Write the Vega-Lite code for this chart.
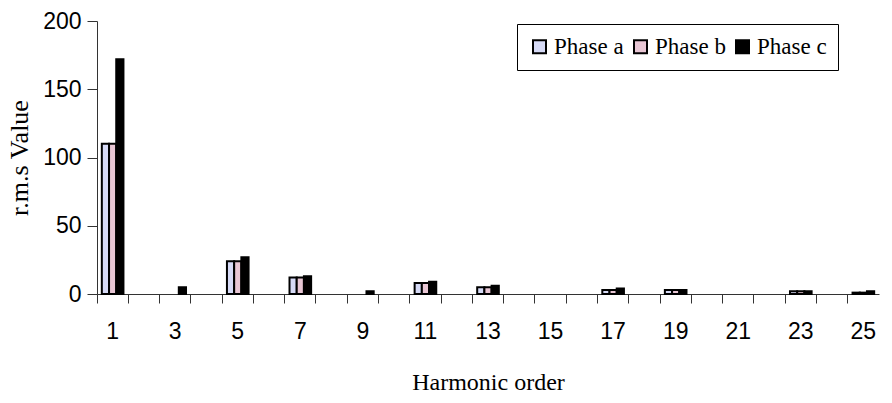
{
  "$schema": "https://vega.github.io/schema/vega-lite/v6.json",
  "width": 782,
  "height": 273,
  "autosize": "none",
  "padding": {"left": 97, "top": 21, "right": 13, "bottom": 109},
  "background": "white",
  "config": {"view": {"stroke": null}},
  "data": {
    "values": [
      {"harmonic": 1, "phase": "Phase a", "value": 110},
      {"harmonic": 1, "phase": "Phase b", "value": 110},
      {"harmonic": 1, "phase": "Phase c", "value": 172},
      {"harmonic": 3, "phase": "Phase c", "value": 5},
      {"harmonic": 5, "phase": "Phase a", "value": 24},
      {"harmonic": 5, "phase": "Phase b", "value": 24},
      {"harmonic": 5, "phase": "Phase c", "value": 27},
      {"harmonic": 7, "phase": "Phase a", "value": 12},
      {"harmonic": 7, "phase": "Phase b", "value": 12},
      {"harmonic": 7, "phase": "Phase c", "value": 13},
      {"harmonic": 9, "phase": "Phase c", "value": 2},
      {"harmonic": 11, "phase": "Phase a", "value": 8},
      {"harmonic": 11, "phase": "Phase b", "value": 8},
      {"harmonic": 11, "phase": "Phase c", "value": 9},
      {"harmonic": 13, "phase": "Phase a", "value": 5},
      {"harmonic": 13, "phase": "Phase b", "value": 5},
      {"harmonic": 13, "phase": "Phase c", "value": 6},
      {"harmonic": 17, "phase": "Phase a", "value": 3},
      {"harmonic": 17, "phase": "Phase b", "value": 3},
      {"harmonic": 17, "phase": "Phase c", "value": 4},
      {"harmonic": 19, "phase": "Phase a", "value": 3},
      {"harmonic": 19, "phase": "Phase b", "value": 3},
      {"harmonic": 19, "phase": "Phase c", "value": 3},
      {"harmonic": 23, "phase": "Phase a", "value": 2},
      {"harmonic": 23, "phase": "Phase b", "value": 2},
      {"harmonic": 23, "phase": "Phase c", "value": 2},
      {"harmonic": 25, "phase": "Phase a", "value": 1},
      {"harmonic": 25, "phase": "Phase b", "value": 1},
      {"harmonic": 25, "phase": "Phase c", "value": 2}
    ]
  },
  "mark": {"type": "bar", "stroke": "black", "strokeWidth": 2},
  "encoding": {
    "x": {
      "field": "harmonic",
      "type": "ordinal",
      "scale": {
        "domain": [1,2,3,4,5,6,7,8,9,10,11,12,13,14,15,16,17,18,19,20,21,22,23,24,25],
        "paddingInner": 0,
        "paddingOuter": 0
      },
      "axis": {
        "bandPosition": 0,
        "labelExpr": "datum.value % 2 == 1 ? datum.label : ''",
        "labelAngle": 0,
        "labelFont": "Liberation Sans",
        "labelFontSize": 23,
        "labelColor": "black",
        "labelPadding": 17,
        "tickSize": 9,
        "tickColor": "#333333",
        "domainColor": "#333333",
        "grid": false,
        "title": "Harmonic order",
        "titleFont": "Liberation Serif",
        "titleFontSize": 24,
        "titleFontWeight": "normal",
        "titleColor": "black",
        "titlePadding": 27
      }
    },
    "xOffset": {
      "field": "phase",
      "scale": {"paddingOuter": 0.67, "paddingInner": 0}
    },
    "y": {
      "field": "value",
      "type": "quantitative",
      "scale": {"domain": [0, 200]},
      "axis": {
        "values": [0, 50, 100, 150, 200],
        "labelFont": "Liberation Sans",
        "labelFontSize": 23,
        "labelColor": "black",
        "labelPadding": 6,
        "tickSize": 10,
        "tickColor": "#333333",
        "domainColor": "#333333",
        "grid": false,
        "title": "r.m.s Value",
        "titleFont": "Liberation Serif",
        "titleFontSize": 26,
        "titleFontWeight": "normal",
        "titleColor": "black",
        "titlePadding": 10
      }
    },
    "color": {
      "field": "phase",
      "type": "nominal",
      "scale": {
        "domain": ["Phase a", "Phase b", "Phase c"],
        "range": ["#d6daf6", "#e8c6d4", "#000000"]
      },
      "legend": {
        "title": null,
        "orient": "none",
        "legendX": 420,
        "legendY": 3,
        "direction": "horizontal",
        "symbolType": "square",
        "symbolSize": 169,
        "symbolStrokeColor": "black",
        "symbolStrokeWidth": 2,
        "labelFont": "Liberation Serif",
        "labelFontSize": 23,
        "labelColor": "black",
        "labelOffset": 3,
        "columnPadding": 5,
        "padding": 11,
        "strokeColor": "black",
        "fillColor": "white"
      }
    }
  }
}
